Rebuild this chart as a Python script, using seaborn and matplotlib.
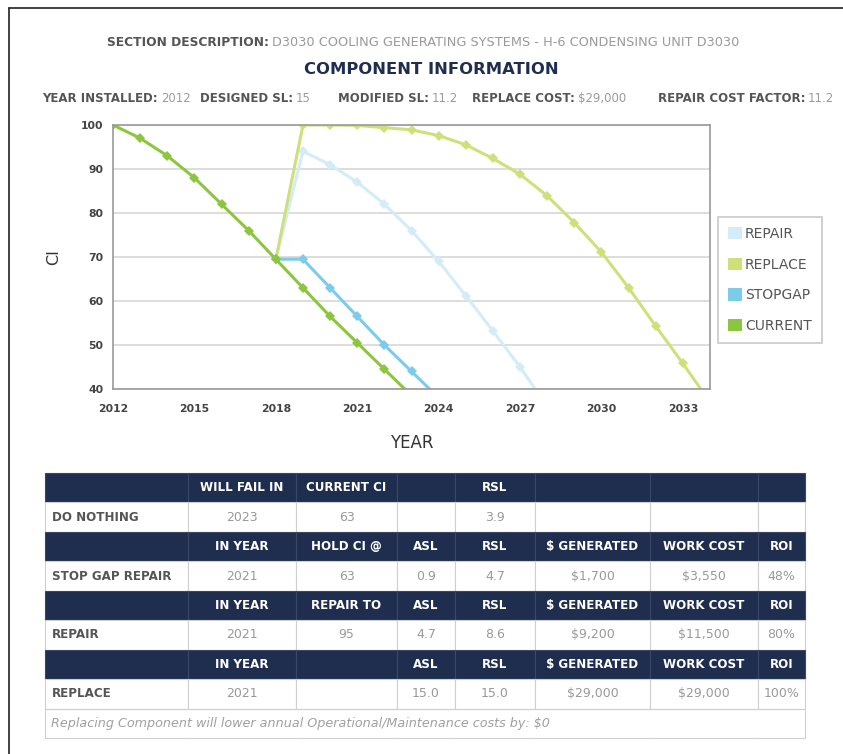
import matplotlib.pyplot as plt
import seaborn as sns
import pandas as pd
import numpy as np
from matplotlib.patches import Patch
from matplotlib.lines import Line2D
from matplotlib.ticker import MultipleLocator

# ---- chart data (CI by year for each scenario) ----
current_years = list(range(2012, 2024))
current_ci = [100, 97, 93, 88, 82, 76, 69.5, 63, 56.5, 50.5, 44.5, 38.5]

stopgap_years = list(range(2018, 2025))
stopgap_ci = [69.5, 69.5, 63, 56.5, 50, 44, 38]

repair_years = list(range(2018, 2029))
repair_ci = [69.5, 94, 91, 87, 82, 76, 69, 61.2, 53.2, 45, 36]

replace_years = list(range(2018, 2035))
replace_ci = [69.5, 100, 100, 99.9, 99.4, 98.9, 97.6, 95.5, 92.4, 88.8, 83.9,
              77.8, 71.1, 63.0, 54.3, 45.8, 37]

series_order = ["REPAIR", "REPLACE", "STOPGAP", "CURRENT"]
series_colors = ["#d3ecf7", "#cfe07a", "#7ccbea", "#8cc63f"]
year_ticks = list(range(2012, 2034, 3))

# ---- header text ----
section_label = "SECTION DESCRIPTION:"
section_value = "D3030 COOLING GENERATING SYSTEMS - H-6 CONDENSING UNIT D3030"
title = "COMPONENT INFORMATION"
info_labels = ["YEAR INSTALLED:", "DESIGNED SL:", "MODIFIED SL:", "REPLACE COST:", "REPAIR COST FACTOR:"]
info_values = ["2012", "15", "11.2", "$29,000", "11.2"]

# ---- table data ----
do_nothing_head = ["", "WILL FAIL IN", "CURRENT CI", "", "RSL", "", "", ""]
do_nothing_vals = ["DO NOTHING", "2023", "63", "", "3.9", "", "", ""]
stopgap_head = ["", "IN YEAR", "HOLD CI @", "ASL", "RSL", "$ GENERATED", "WORK COST", "ROI"]
stopgap_vals = ["STOP GAP REPAIR", "2021", "63", "0.9", "4.7", "$1,700", "$3,550", "48%"]
repair_head = ["", "IN YEAR", "REPAIR TO", "ASL", "RSL", "$ GENERATED", "WORK COST", "ROI"]
repair_vals = ["REPAIR", "2021", "95", "4.7", "8.6", "$9,200", "$11,500", "80%"]
replace_head = ["", "IN YEAR", "", "ASL", "RSL", "$ GENERATED", "WORK COST", "ROI"]
replace_vals = ["REPLACE", "2021", "", "15.0", "15.0", "$29,000", "$29,000", "100%"]
footnote = "Replacing Component will lower annual Operational/Maintenance costs by: $0"

W, H = 843, 754
NAVY = "#1f2e4f"


def px(x, y):
    return x / W, 1 - y / H


sns.set_theme(style="white")
plt.rcParams['font.family'] = ['DejaVu Sans']

fig = plt.figure(figsize=(W / 100, H / 100), dpi=100)
fig.patch.set_facecolor("white")

# page border (left and top edges visible)
fig.add_artist(Line2D([9 / W, 9 / W], [0, 1 - 8 / H], color="#222222", lw=1.2,
                      transform=fig.transFigure))
fig.add_artist(Line2D([9 / W, 1], [1 - 8 / H, 1 - 8 / H], color="#222222", lw=1.2,
                      transform=fig.transFigure))

# header
fig.text(*px(269, 43), section_label, ha="right", va="center", fontsize=8.8,
         fontweight="bold", color="#555555")
fig.text(*px(272, 43), section_value, ha="left", va="center", fontsize=9.3,
         color="#9a9a9a")
fig.text(*px(431, 70), title, ha="center", va="center", fontsize=11.8,
         fontweight="bold", color=NAVY)

label_ends = [158, 293, 429, 575, 805]
for lab, val, xe in zip(info_labels, info_values, label_ends):
    fig.text(*px(xe, 99), lab, ha="right", va="center", fontsize=8.5,
             fontweight="bold", color="#555555")
    fig.text(*px(xe + 3, 99), val, ha="left", va="center", fontsize=8.4,
             color="#9a9a9a")

# ---- chart ----
frames = []
for name, yrs, vals in [("REPAIR", repair_years, repair_ci),
                        ("REPLACE", replace_years, replace_ci),
                        ("STOPGAP", stopgap_years, stopgap_ci),
                        ("CURRENT", current_years, current_ci)]:
    frames.append(pd.DataFrame({"year": yrs, "ci": vals, "series": name}))
df = pd.concat(frames, ignore_index=True)

ax = fig.add_axes([113 / W, 1 - 389 / H, (710 - 113) / W, (389 - 125) / H])
sns.lineplot(data=df, x="year", y="ci", hue="series", hue_order=series_order,
             palette=dict(zip(series_order, series_colors)), marker="D",
             markersize=5, markeredgewidth=0, linewidth=2.2, sort=False,
             estimator=None, legend=False, ax=ax)

ax.set_xlim(2012, 2034)
ax.set_ylim(40, 100)
ax.set_xticks(year_ticks)
ax.xaxis.set_minor_locator(MultipleLocator(1))
ax.yaxis.set_major_locator(MultipleLocator(10))
ax.yaxis.set_minor_locator(MultipleLocator(2))
ax.yaxis.grid(True, color="#dddddd", lw=1.4)
ax.set_axisbelow(True)
for s in ax.spines.values():
    s.set_color("#999999")
    s.set_linewidth(1.2)
ax.tick_params(axis="both", which="major", length=4, color="#999999",
               labelsize=7.8, labelcolor="#444444", pad=4)
ax.tick_params(axis="x", which="major", direction="out", pad=7)
ax.tick_params(axis="y", which="major", direction="out", length=3)
ax.tick_params(axis="both", which="minor", length=2.5, color="#aaaaaa",
               direction="inout")
for lbl in ax.get_xticklabels() + ax.get_yticklabels():
    lbl.set_fontweight("bold")
ax.set_xlabel("YEAR", fontsize=12, color="#333333", labelpad=14)
ax.set_ylabel("CI", fontsize=11.5, color="#333333", labelpad=14)

handles = [Patch(facecolor=c, edgecolor="none") for c in series_colors]
leg = fig.legend(handles, series_order, loc="center left",
                 bbox_to_anchor=(718 / W, 1 - 280 / H), frameon=True,
                 fancybox=False, fontsize=10, handlelength=1.0,
                 handleheight=1.0, handletextpad=0.25, labelspacing=1.2,
                 borderpad=0.7, borderaxespad=0)
leg.get_frame().set_edgecolor("#bbbbbb")
leg.get_frame().set_linewidth(1.2)
for t in leg.get_texts():
    t.set_color("#555555")

# ---- table ----
tax = fig.add_axes([45 / W, 1 - 738 / H, 760 / W, 265 / H])
tax.axis("off")
rows = [do_nothing_head, do_nothing_vals, stopgap_head, stopgap_vals,
        repair_head, repair_vals, replace_head, replace_vals,
        [footnote] + [""] * 7]
col_px = np.array([143, 108, 101, 58, 80, 115, 108, 47], dtype=float)
table = tax.table(cellText=rows, cellLoc="center", colWidths=list(col_px / col_px.sum()),
                  bbox=[0, 0, 1, 1])
table.auto_set_font_size(False)
table.set_fontsize(8.6)
for (r, c), cell in table.get_celld().items():
    cell.set_edgecolor("#cfcfcf")
    cell.set_linewidth(0.8)
    txt = cell.get_text()
    if r == 8:
        cell.set_facecolor("none")
        cell.set_fill(False)
        cell.visible_edges = "BLT" if c == 0 else ("BRT" if c == 7 else "BT")
        if c == 0:
            cell._loc = "left"
            cell.PAD = 0.04
            txt.set_ha("left")
            txt.set_fontstyle("italic")
            txt.set_color("#a0a0a0")
            txt.set_fontsize(9.2)
    elif r % 2 == 0:
        cell.set_facecolor(NAVY)
        cell.set_edgecolor("#3a4766")
        txt.set_color("white")
        txt.set_fontweight("bold")
    else:
        cell.set_facecolor("white")
        if c == 0:
            cell._loc = "left"
            cell.PAD = 0.05
            txt.set_ha("left")
            txt.set_fontweight("bold")
            txt.set_color("#555555")
        else:
            txt.set_color("#999999")
            txt.set_fontsize(9)

fig.savefig("out.png", dpi=100)
